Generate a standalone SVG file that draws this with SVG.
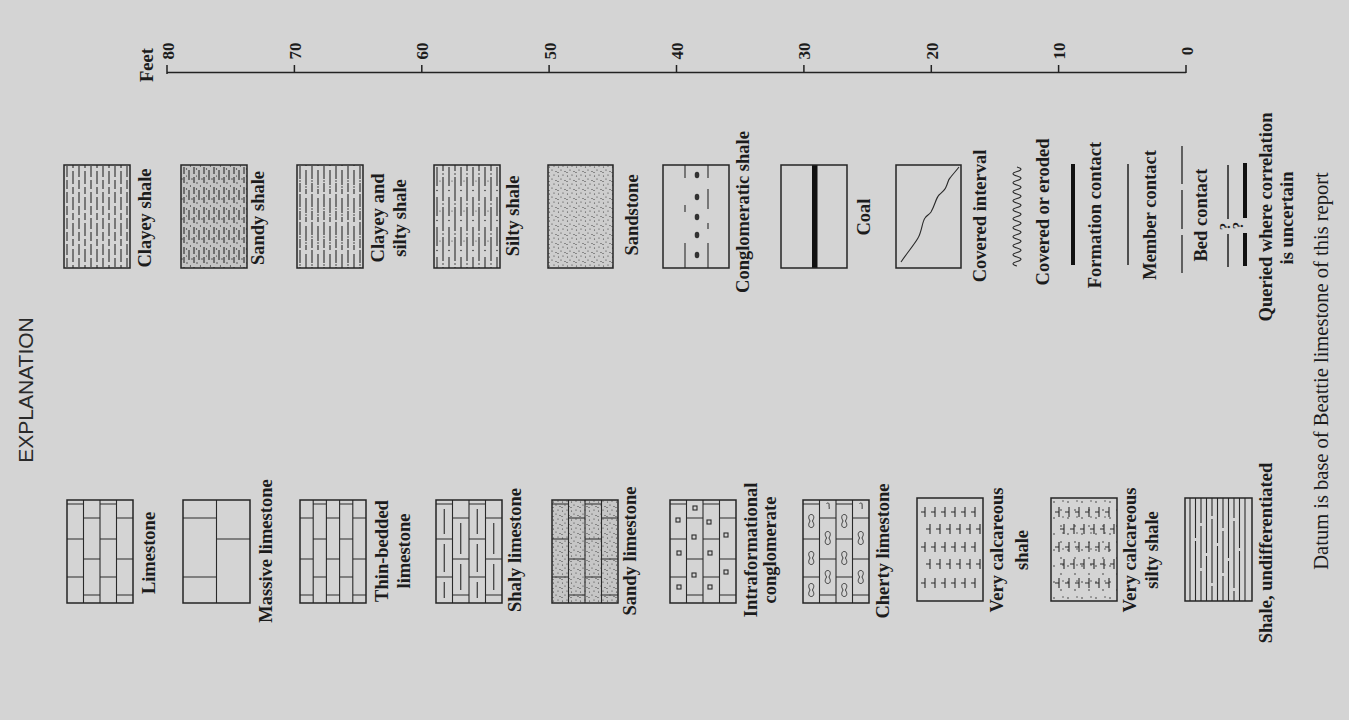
<svg xmlns="http://www.w3.org/2000/svg" xmlns:xlink="http://www.w3.org/1999/xlink" width="1349" height="720" viewBox="0 0 1349 720">
<style>
.bg{fill:#d4d4d4}
.box{fill:none;stroke:#242424;stroke-width:1.5}
.ln{fill:none;stroke:#2a2a2a;stroke-width:1.1}
.thin{fill:none;stroke:#2a2a2a;stroke-width:0.9}
.dot{fill:#333}
.lb{font-family:"Liberation Serif",serif;font-weight:bold;font-size:18.5px;fill:#1c1c1c;text-anchor:middle}
.rg{font-family:"Liberation Serif",serif;font-size:20.5px;fill:#1c1c1c;text-anchor:middle}
.num{font-family:"Liberation Serif",serif;font-weight:bold;font-size:17px;fill:#1c1c1c;text-anchor:middle}
.feet{font-family:"Liberation Serif",serif;font-weight:bold;font-size:18.5px;fill:#1c1c1c;text-anchor:middle}
.ttl{font-family:"Liberation Sans",Arial,sans-serif;font-size:21px;fill:#2a2a2a;text-anchor:middle}
.q{font-family:"Liberation Serif",serif;font-weight:bold;font-size:15px;fill:#1c1c1c;text-anchor:middle}
</style>
<defs>
<pattern id="pClayey" patternUnits="userSpaceOnUse" width="12" height="26">
<path class="ln" d="M3 1V12M3 15V24M9 6V19M9 22V28M9 -2V3"/>
</pattern>
<pattern id="pSandyShale" patternUnits="userSpaceOnUse" width="10" height="20">
<path class="ln" d="M3 2V9M3 12V18M8 5V15"/>
<circle class="dot" cx="5.5" cy="4" r="0.7"/><circle class="dot" cx="1" cy="14" r="0.7"/><circle class="dot" cx="6" cy="18" r="0.7"/><circle class="dot" cx="9.5" cy="1" r="0.7"/><circle class="dot" cx="5.5" cy="11" r="0.6"/>
</pattern>
<pattern id="pClaySilt" patternUnits="userSpaceOnUse" width="12" height="28">
<path class="ln" d="M3 1V14M3 18V27M9 5V20M9 24V30M9 -2V1"/>
<circle class="dot" cx="3" cy="16" r="0.8"/><circle class="dot" cx="9" cy="22" r="0.8"/>
</pattern>
<pattern id="pSilty" patternUnits="userSpaceOnUse" width="12" height="30">
<path class="ln" d="M3 2V21M9 12V32M9 -2V6"/>
<circle class="dot" cx="3" cy="25.5" r="0.8"/><circle class="dot" cx="9" cy="9" r="0.8"/><circle class="dot" cx="6" cy="16" r="0.6"/>
</pattern>
<pattern id="pSand" patternUnits="userSpaceOnUse" width="9" height="9">
<circle class="dot" cx="1.5" cy="2" r="0.6"/><circle class="dot" cx="6" cy="1" r="0.6"/><circle class="dot" cx="4" cy="5" r="0.6"/><circle class="dot" cx="8" cy="6.5" r="0.6"/><circle class="dot" cx="1" cy="7.5" r="0.6"/>
</pattern>
<pattern id="pSiltDots" patternUnits="userSpaceOnUse" width="14" height="16">
<circle class="dot" cx="3" cy="4" r="0.8"/><circle class="dot" cx="10" cy="12" r="0.8"/><circle class="dot" cx="12" cy="3" r="0.7"/>
</pattern>
<path id="bricks4" class="ln" d="M16.5 0V103M33 0V103M49.5 0V103M0 4H16.5M0 39H16.5M0 77H16.5M33 4H49.5M33 39H49.5M33 77H49.5M16.5 18H33M16.5 59H33M16.5 95H33M49.5 18H66M49.5 59H66M49.5 95H66"/>
<path id="vcal" class="ln" d="M4 14h4m0-5v10M14 14h4m0-5v10M24 14h4m0-5v10M34 14h4m0-5v10M44 14h4m0-5v10M54 14h4m0-5v10M9 31h4m0-5v10M19 31h4m0-5v10M29 31h4m0-5v10M39 31h4m0-5v10M49 31h4m0-5v10M59 31h4m0-5v10M4 49h4m0-5v10M14 49h4m0-5v10M24 49h4m0-5v10M34 49h4m0-5v10M44 49h4m0-5v10M54 49h4m0-5v10M9 66h4m0-5v10M19 66h4m0-5v10M29 66h4m0-5v10M39 66h4m0-5v10M49 66h4m0-5v10M59 66h4m0-5v10M4 85h4m0-5v10M14 85h4m0-5v10M24 85h4m0-5v10M34 85h4m0-5v10M44 85h4m0-5v10M54 85h4m0-5v10"/>
<path id="chert" class="thin" d="M0,-6.5C2.8,-6.5 3.2,-3 1.6,-1C1.2,-0.4 1.2,0.4 1.6,1C3.2,3 2.8,6.5 0,6.5C-2.8,6.5 -3.2,3 -1.6,1C-1.2,0.4 -1.2,-0.4 -1.6,-1C-3.2,-3 -2.8,-6.5 0,-6.5Z"/>
<rect id="sq" class="ln" x="-2" y="-2" width="4" height="4"/>
</defs>

<rect class="bg" x="0" y="0" width="1349" height="720"/>

<g id="title"><text class="ttl" transform="translate(33,390) rotate(-90)">EXPLANATION</text></g>

<g id="scale">
<path fill="none" stroke="#222" stroke-width="1.5" d="M167 72.5H1186M167 65V74M294.4 65V72.5M421.8 65V72.5M549.1 65V72.5M676.5 65V72.5M803.9 65V72.5M931.3 65V72.5M1058.6 65V72.5M1186 65V73"/>
<text class="feet" transform="translate(153,65) rotate(-90)">Feet</text>
<text class="num" transform="translate(173.5,51) rotate(-90)">80</text>
<text class="num" transform="translate(300.9,51) rotate(-90)">70</text>
<text class="num" transform="translate(428.3,51) rotate(-90)">60</text>
<text class="num" transform="translate(555.6,51) rotate(-90)">50</text>
<text class="num" transform="translate(683,51) rotate(-90)">40</text>
<text class="num" transform="translate(810.4,51) rotate(-90)">30</text>
<text class="num" transform="translate(937.8,51) rotate(-90)">20</text>
<text class="num" transform="translate(1065.1,51) rotate(-90)">10</text>
<text class="num" transform="translate(1192.5,51) rotate(-90)">0</text>
</g>

<!-- top row -->
<g id="clayey-shale">
<g transform="translate(64,165)"><rect width="66" height="103" fill="url(#pClayey)"/><rect class="box" width="66" height="103"/></g>
<text class="lb" transform="translate(151,218) rotate(-90)">Clayey shale</text>
</g>
<g id="sandy-shale">
<g transform="translate(181,165)"><rect width="66" height="103" fill="#c4c4c4"/><rect width="66" height="103" fill="url(#pSandyShale)"/><rect class="box" width="66" height="103"/></g>
<text class="lb" transform="translate(264,218) rotate(-90)">Sandy shale</text>
</g>
<g id="clayey-silty-shale">
<g transform="translate(297,165)"><rect width="66" height="103" fill="url(#pClaySilt)"/><rect class="box" width="66" height="103"/></g>
<text class="lb" transform="translate(384,218) rotate(-90)">Clayey and</text>
<text class="lb" transform="translate(406,218) rotate(-90)">silty shale</text>
</g>
<g id="silty-shale">
<g transform="translate(434,165)"><rect width="66" height="103" fill="url(#pSilty)"/><rect class="box" width="66" height="103"/></g>
<text class="lb" transform="translate(519,216) rotate(-90)">Silty shale</text>
</g>
<g id="sandstone">
<g transform="translate(548,165)"><rect width="65" height="103" fill="#cdcdcd"/><rect width="65" height="103" fill="url(#pSand)"/><rect class="box" width="65" height="103"/></g>
<text class="lb" transform="translate(638,215) rotate(-90)">Sandstone</text>
</g>
<g id="conglomeratic-shale">
<g transform="translate(663,165)"><rect class="box" width="66" height="103"/>
<path class="ln" d="M22 0V13M22 40V47M22 78V103M45 0V13M45 24V44M45 58V64M45 78V103"/>
<ellipse class="dot" cx="34" cy="10" rx="2.3" ry="3.2"/><ellipse class="dot" cx="34" cy="32" rx="2.3" ry="3.2"/><ellipse class="dot" cx="34" cy="52" rx="2.3" ry="3.2"/><ellipse class="dot" cx="34" cy="70" rx="2.3" ry="3.2"/><ellipse class="dot" cx="34" cy="90" rx="2.3" ry="3.2"/>
</g>
<text class="lb" transform="translate(749,212) rotate(-90)">Conglomeratic shale</text>
</g>
<g id="coal">
<g transform="translate(781,165)"><rect x="31" y="0" width="5.5" height="103" fill="#111"/><rect class="box" width="66" height="103"/></g>
<text class="lb" transform="translate(870,217) rotate(-90)">Coal</text>
</g>
<g id="covered-interval">
<g transform="translate(896,165)"><rect class="box" width="65" height="103"/>
<path class="ln" d="M5 97C11 88 18 80 22 73C26 66 26 57 29 53C31 50 33 50 35 47C39 40 40 33 43 30C46 27 49 25 50 22C52 18 52 15 54 13C57 9 60 6 63 2"/>
</g>
<text class="lb" transform="translate(986,216) rotate(-90)">Covered interval</text>
</g>
<g id="covered-eroded">
<path class="ln" d="M1017 167q8 2.25 0 4.5t0 4.5t0 4.5t0 4.5t0 4.5t0 4.5t0 4.5t0 4.5t0 4.5t0 4.5t0 4.5t0 4.5t0 4.5t0 4.5t0 4.5t0 4.5t0 4.5t0 4.5t0 4.5t0 4.5t0 4.5t0 4.5"/>
<text class="lb" transform="translate(1049,212) rotate(-90)">Covered or eroded</text>
</g>
<g id="formation-contact">
<path fill="none" stroke="#111" stroke-width="4" d="M1073 164V265"/>
<text class="lb" transform="translate(1101,215) rotate(-90)">Formation contact</text>
</g>
<g id="member-contact">
<path fill="none" stroke="#222" stroke-width="1.5" d="M1128 164V265"/>
<text class="lb" transform="translate(1156,215) rotate(-90)">Member contact</text>
</g>
<g id="bed-contact">
<path fill="none" stroke="#222" stroke-width="1.3" d="M1182 146V184M1182 190V229M1182 235V273"/>
<text class="lb" transform="translate(1207,215) rotate(-90)">Bed contact</text>
</g>
<g id="queried">
<path fill="none" stroke="#222" stroke-width="1.5" d="M1228 165V219M1228 234V267"/>
<path fill="none" stroke="#111" stroke-width="4" d="M1245 163V218M1245 233V266"/>
<text class="q" transform="translate(1230,226.5) rotate(-90)">?</text>
<text class="q" transform="translate(1243,225.5) rotate(-90)">?</text>
<text class="lb" transform="translate(1272,217) rotate(-90)">Queried where correlation</text>
<text class="lb" transform="translate(1293,218) rotate(-90)">is uncertain</text>
</g>

<!-- bottom row -->
<g id="limestone">
<g transform="translate(67,500)"><use xlink:href="#bricks4"/><rect class="box" width="66" height="103"/></g>
<text class="lb" transform="translate(155,553) rotate(-90)">Limestone</text>
</g>
<g id="massive-limestone">
<g transform="translate(183,500)"><path class="ln" d="M33.5 0V103M0 18H33.5M0 77H33.5M33.5 39H67"/><rect class="box" width="67" height="103"/></g>
<text class="lb" transform="translate(272,551) rotate(-90)">Massive limestone</text>
</g>
<g id="thin-bedded-limestone">
<g transform="translate(300,500)"><path class="ln" d="M13.2 0V103M26.4 0V103M39.6 0V103M52.8 0V103M0 18H13.2M0 59H13.2M0 95H13.2M26.4 18H39.6M26.4 59H39.6M26.4 95H39.6M52.8 18H66M52.8 59H66M52.8 95H66M13.2 4H26.4M13.2 39H26.4M13.2 77H26.4M39.6 4H52.8M39.6 39H52.8M39.6 77H52.8"/><rect class="box" width="66" height="103"/></g>
<text class="lb" transform="translate(388,551) rotate(-90)">Thin-bedded</text>
<text class="lb" transform="translate(410,551) rotate(-90)">limestone</text>
</g>
<g id="shaly-limestone">
<g transform="translate(436,500)"><use xlink:href="#bricks4"/>
<path class="ln" d="M8.25 9V34M8.25 44V72M8.25 82V98M41.25 9V34M41.25 44V72M41.25 82V98M24.75 23V54M24.75 64V90M57.75 23V54M57.75 64V90"/>
<rect class="box" width="66" height="103"/></g>
<text class="lb" transform="translate(521,550) rotate(-90)">Shaly limestone</text>
</g>
<g id="sandy-limestone">
<g transform="translate(552,500)"><rect width="66" height="103" fill="#c6c6c6"/><rect width="66" height="103" fill="url(#pSand)"/><use xlink:href="#bricks4"/><rect class="box" width="66" height="103"/></g>
<text class="lb" transform="translate(636,551) rotate(-90)">Sandy limestone</text>
</g>
<g id="intraformational-conglomerate">
<g transform="translate(670,500)"><use xlink:href="#bricks4"/>
<use xlink:href="#sq" x="8" y="20"/><use xlink:href="#sq" x="25" y="8"/><use xlink:href="#sq" x="39" y="22"/><use xlink:href="#sq" x="56" y="35"/><use xlink:href="#sq" x="24" y="37"/><use xlink:href="#sq" x="9" y="53"/><use xlink:href="#sq" x="40" y="53"/><use xlink:href="#sq" x="24" y="75"/><use xlink:href="#sq" x="56" y="72"/><use xlink:href="#sq" x="9" y="87"/><use xlink:href="#sq" x="40" y="87"/>
<rect class="box" width="66" height="103"/></g>
<text class="lb" transform="translate(757,550) rotate(-90)">Intraformational</text>
<text class="lb" transform="translate(776,550) rotate(-90)">conglomerate</text>
</g>
<g id="cherty-limestone">
<g transform="translate(803,500)"><use xlink:href="#bricks4"/>
<use xlink:href="#chert" x="8.25" y="21"/><use xlink:href="#chert" x="8.25" y="58"/><use xlink:href="#chert" x="8.25" y="90"/>
<use xlink:href="#chert" x="41.25" y="21"/><use xlink:href="#chert" x="41.25" y="58"/><use xlink:href="#chert" x="41.25" y="90"/>
<use xlink:href="#chert" x="24.75" y="38"/><use xlink:href="#chert" x="24.75" y="77"/>
<use xlink:href="#chert" x="57.75" y="38"/><use xlink:href="#chert" x="57.75" y="77"/>
<path class="thin" d="M23.5 3.5c1.5-1 3-0.5 2.6 1.5c-0.3 1.5 0.5 2.5 0 4M56.5 3.5c1.5-1 3-0.5 2.6 1.5c-0.3 1.5 0.5 2.5 0 4"/>
<rect class="box" width="66" height="103"/></g>
<text class="lb" transform="translate(889,551) rotate(-90)">Cherty limestone</text>
</g>
<g id="very-calcareous-shale">
<g transform="translate(917,498)"><use xlink:href="#vcal"/><rect class="box" width="66" height="103"/></g>
<text class="lb" transform="translate(1003,550) rotate(-90)">Very calcareous</text>
<text class="lb" transform="translate(1028,550) rotate(-90)">shale</text>
</g>
<g id="very-calcareous-silty-shale">
<g transform="translate(1051,498)"><rect width="66" height="103" fill="url(#pSiltDots)"/><use xlink:href="#vcal"/><rect class="box" width="66" height="103"/></g>
<text class="lb" transform="translate(1136,550) rotate(-90)">Very calcareous</text>
<text class="lb" transform="translate(1158,550) rotate(-90)">silty shale</text>
</g>
<g id="shale-undifferentiated">
<g transform="translate(1185,498)">
<path class="ln" d="M5 0V103M10.5 0V40M10.5 43V103M16 0V25M16 28V70M16 73V103M21.5 0V55M21.5 58V103M27 0V18M27 21V85M27 88V103M32.5 0V45M32.5 48V103M38 0V30M38 33V75M38 78V103M43.5 0V60M43.5 63V103M49 0V20M49 23V90M49 93V103M54.5 0V50M54.5 53V103M60 0V103"/>
<rect class="box" width="67" height="103"/></g>
<text class="lb" transform="translate(1272,553) rotate(-90)">Shale, undifferentiated</text>
</g>

<g id="datum"><text class="rg" transform="translate(1328,371) rotate(-90)">Datum is base of Beattie limestone of this report</text></g>
</svg>
